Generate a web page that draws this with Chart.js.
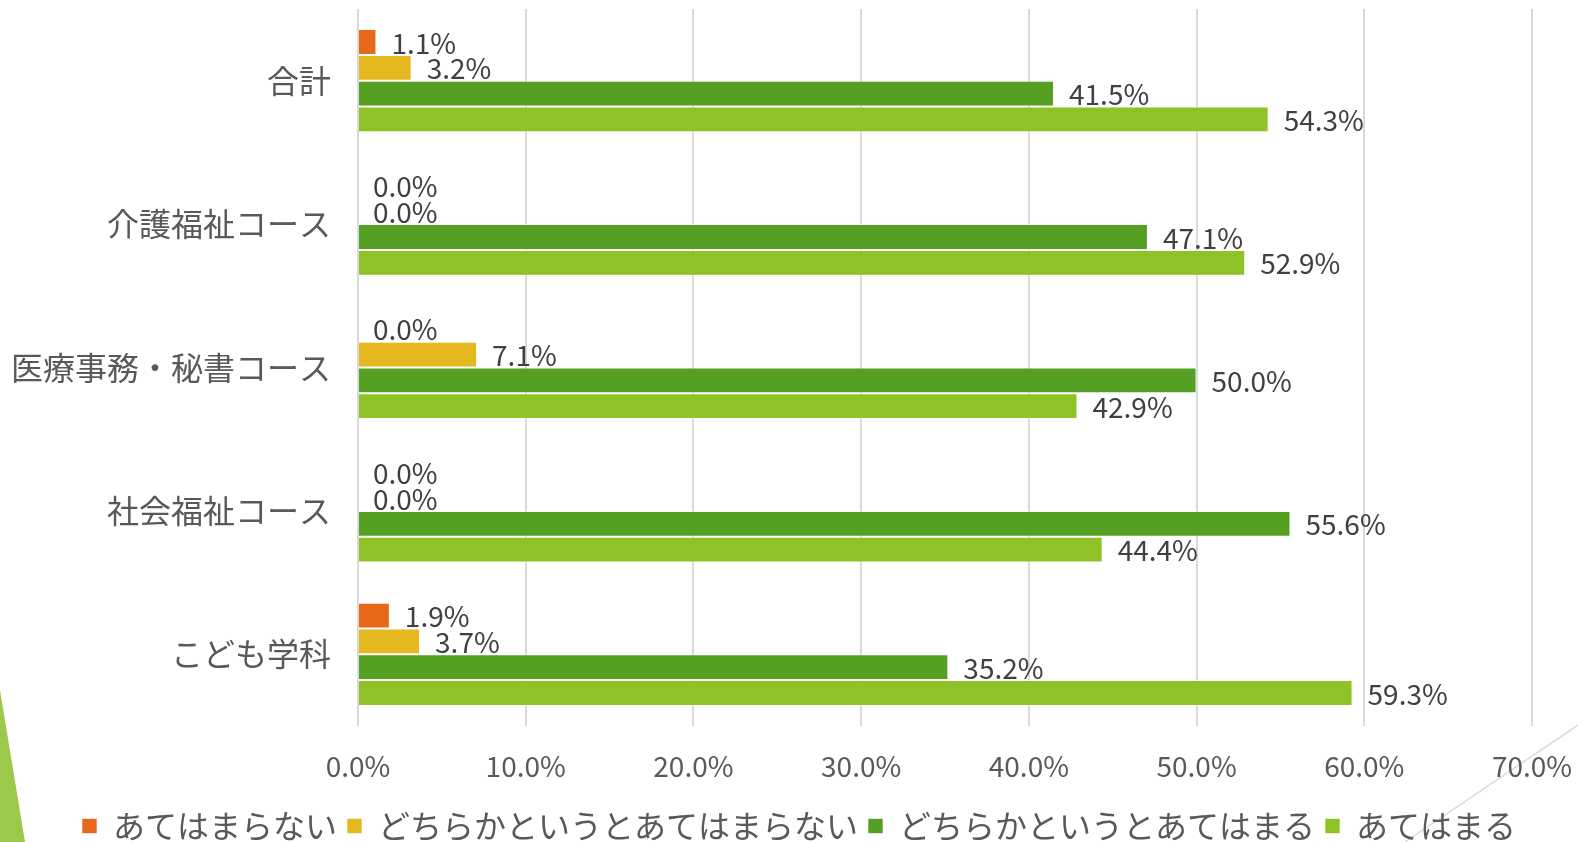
<!DOCTYPE html>
<html>
<head>
<meta charset="utf-8">
<script src="https://cdn.jsdelivr.net/npm/chart.js@4.4.0/dist/chart.umd.min.js"></script>
<style>
  html, body { margin:0; padding:0; background:#fff; }
  #wrap { width:1578px; height:842px; position:relative; }
</style>
</head>
<body>
<div id="wrap"><canvas id="bar_chart" width="1578" height="842"></canvas></div>
<script>
var categories = ["合計", "介護福祉コース", "医療事務・秘書コース", "社会福祉コース", "こども学科"];
var seriesNames = ["あてはまらない", "どちらかというとあてはまらない", "どちらかというとあてはまる", "あてはまる"];
var notApply = [1.1, 0.0, 0.0, 0.0, 1.9];
var ratherNot = [3.2, 0.0, 7.1, 0.0, 3.7];
var ratherApply = [41.5, 47.1, 50.0, 55.6, 35.2];
var apply = [54.3, 52.9, 42.9, 44.4, 59.3];
var xTicks = [0, 10, 20, 30, 40, 50, 60, 70];

var colors = ["#E8681A", "#E6B820", "#55A023", "#8FC227"];
var jpFont = "'Noto Sans CJK JP', 'Noto Sans', sans-serif";

// value labels next to each bar end
var valueLabels = {
    id: "valueLabels",
    afterDatasetsDraw: function(chart) {
        var ctx = chart.ctx;
        ctx.save();
        ctx.font = "28px " + jpFont;
        ctx.fillStyle = "#404040";
        ctx.textAlign = "left";
        ctx.textBaseline = "middle";
        chart.data.datasets.forEach(function(ds, di) {
            var meta = chart.getDatasetMeta(di);
            meta.data.forEach(function(bar, i) {
                ctx.fillText(ds.data[i].toFixed(1) + "%", bar.x + 15, bar.y + 1);
            });
        });
        ctx.restore();
    }
};

// let the long category names run past the left padding
var yLabelRoom = {
    id: "yLabelRoom",
    afterLayout: function(chart) {
        chart.scales.y.left = 0;
    }
};

// slide decorations (green corner, thin diagonal line)
var slideDeco = {
    id: "slideDeco",
    beforeDraw: function(chart) {
        var ctx = chart.ctx;
        ctx.save();
        ctx.fillStyle = "#9CC84B";
        ctx.beginPath();
        ctx.moveTo(0, 690);
        ctx.lineTo(25, 842);
        ctx.lineTo(0, 842);
        ctx.closePath();
        ctx.fill();
        ctx.strokeStyle = "#D9D9D9";
        ctx.lineWidth = 1.5;
        ctx.beginPath();
        ctx.moveTo(1405, 842);
        ctx.lineTo(1578, 725);
        ctx.stroke();
        ctx.restore();
    }
};

var series = [notApply, ratherNot, ratherApply, apply];
var datasets = series.map(function(d, k) {
    return {
        label: seriesNames[k],
        data: d,
        backgroundColor: colors[k],
        borderColor: "rgba(255,255,255,0.6)",
        borderWidth: 1,
        categoryPercentage: 0.72,
        barPercentage: 1.0
    };
});

var ctx = document.getElementById("bar_chart").getContext("2d");
var myChart = new Chart(ctx, {
    type: "bar",
    data: { labels: categories, datasets: datasets },
    options: {
        responsive: false,
        animation: false,
        indexAxis: "y",
        layout: { padding: { top: 9, right: 46, left: 66, bottom: -10 } },
        scales: {
            x: {
                min: 0,
                max: 70,
                afterBuildTicks: function(axis) {
                    axis.ticks = xTicks.map(function(v) { return { value: v }; });
                },
                afterFit: function(s) {
                    s.height = 74;
                    s.paddingLeft = 0;
                    s.paddingRight = 0;
                },
                ticks: {
                    callback: function(v) { return Number(v).toFixed(1) + "%"; },
                    font: { family: jpFont, size: 28 },
                    color: "#595959",
                    padding: 24,
                    maxRotation: 0
                },
                grid: { color: "#D9D9D9", lineWidth: 2, drawTicks: false },
                border: { display: false }
            },
            y: {
                afterFit: function(s) {
                    s.width = 292;
                    s.paddingTop = 0;
                    s.paddingBottom = 0;
                },
                ticks: {
                    font: { family: jpFont, size: 32 },
                    color: "#595959",
                    padding: 27
                },
                grid: { display: false, drawTicks: false },
                border: { display: false }
            }
        },
        plugins: {
            legend: {
                position: "bottom",
                labels: {
                    font: { family: jpFont, size: 32 },
                    color: "#595959",
                    boxWidth: 15,
                    boxHeight: 15,
                    padding: 10
                }
            },
            tooltip: { enabled: false }
        }
    },
    plugins: [valueLabels, yLabelRoom, slideDeco]
});
</script>
</body>
</html>
